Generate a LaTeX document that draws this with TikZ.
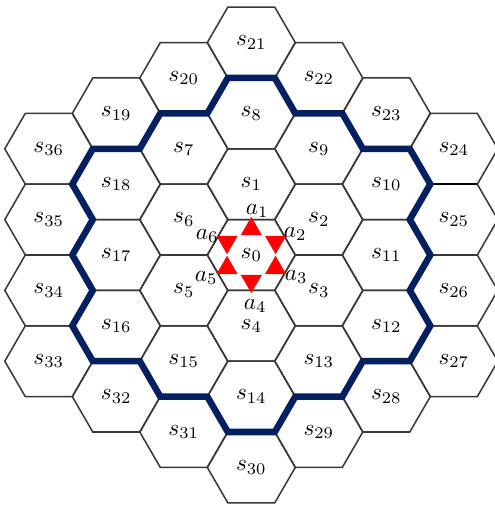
\documentclass[tikz,border=0pt]{standalone}
\usepackage{amsmath,amsfonts,amssymb}
\usepackage{xcolor}
\usepackage{tikz}
\usetikzlibrary{shapes.geometric}

\definecolor{ringblue}{RGB}{5,32,96}

\begin{document}
\begin{tikzpicture}[x=0.43pt,y=0.43pt,
  cell/.style={draw=black!78,line width=0.65pt},
  ring/.style={draw=ringblue,line width=2.8pt},
  beam/.style={regular polygon,regular polygon sides=3,fill=red,inner sep=0pt,minimum size=10.5pt}]
\def\R{44}
\def\a{23.5}
\def\cs{67.5}
\def\H{35.4}
\path[use as bounding box,fill=white] (-251.3,-251) rectangle (242.7,255);

\foreach \n/\c/\v in {0/0/0,1/0/2,2/1/1,3/1/-1,4/0/-2,5/-1/-1,6/-1/1,
  7/-1/3,8/0/4,9/1/3,10/2/2,11/2/0,12/2/-2,13/1/-3,14/0/-4,15/-1/-3,16/-2/-2,17/-2/0,18/-2/2,
  19/-2/4,20/-1/5,21/0/6,22/1/5,23/2/4,24/3/3,25/3/1,26/3/-1,27/3/-3,28/2/-4,29/1/-5,
  30/0/-6,31/-1/-5,32/-2/-4,33/-3/-3,34/-3/-1,35/-3/1,36/-3/3} {
  \coordinate (c\n) at (\c*\cs,\v*\H);
  \coordinate (c\n-1) at (\c*\cs+\R,\v*\H);
  \coordinate (c\n-2) at (\c*\cs+\a,\v*\H+\H);
  \coordinate (c\n-3) at (\c*\cs-\a,\v*\H+\H);
  \coordinate (c\n-4) at (\c*\cs-\R,\v*\H);
  \coordinate (c\n-5) at (\c*\cs-\a,\v*\H-\H);
  \coordinate (c\n-6) at (\c*\cs+\a,\v*\H-\H);
  \draw[cell] (c\n-1) -- (c\n-2) -- (c\n-3) -- (c\n-4) -- (c\n-5) -- (c\n-6) -- cycle;
  \node (s\n) at (c\n) {$s_{\n}$};
}
\draw[line width=1pt] (c24-5) -- (c24-6);

\draw[ring] (c8-3) -- (c8-2) -- (c8-1) -- (c9-2) -- (c9-1) -- (c10-2) -- (c10-1) -- (c10-6)
  -- (c11-1) -- (c11-6) -- (c12-1) -- (c12-6) -- (c12-5) -- (c13-6) -- (c13-5) -- (c14-6)
  -- (c14-5) -- (c14-4) -- (c15-5) -- (c15-4) -- (c16-5) -- (c16-4) -- (c16-3) -- (c17-4)
  -- (c17-3) -- (c18-4) -- (c18-3) -- (c18-2) -- (c7-3) -- (c7-2) -- cycle;

\foreach \i in {1,...,6} {
  \pgfmathsetmacro\ang{150-60*\i}
  \node[beam,rotate=\ang-90] (t\i) at ([shift={(\ang:28 and 26)}]c0) {};
}
\foreach \i/\dx/\dy in {1/6/44,2/44/21,3/45/-22,4/4/-51,5/-45/-23,6/-44/19}
  \node (a\i) at ([shift={(\dx,\dy)}]c0) {$a_{\i}$};
\end{tikzpicture}
\end{document}
